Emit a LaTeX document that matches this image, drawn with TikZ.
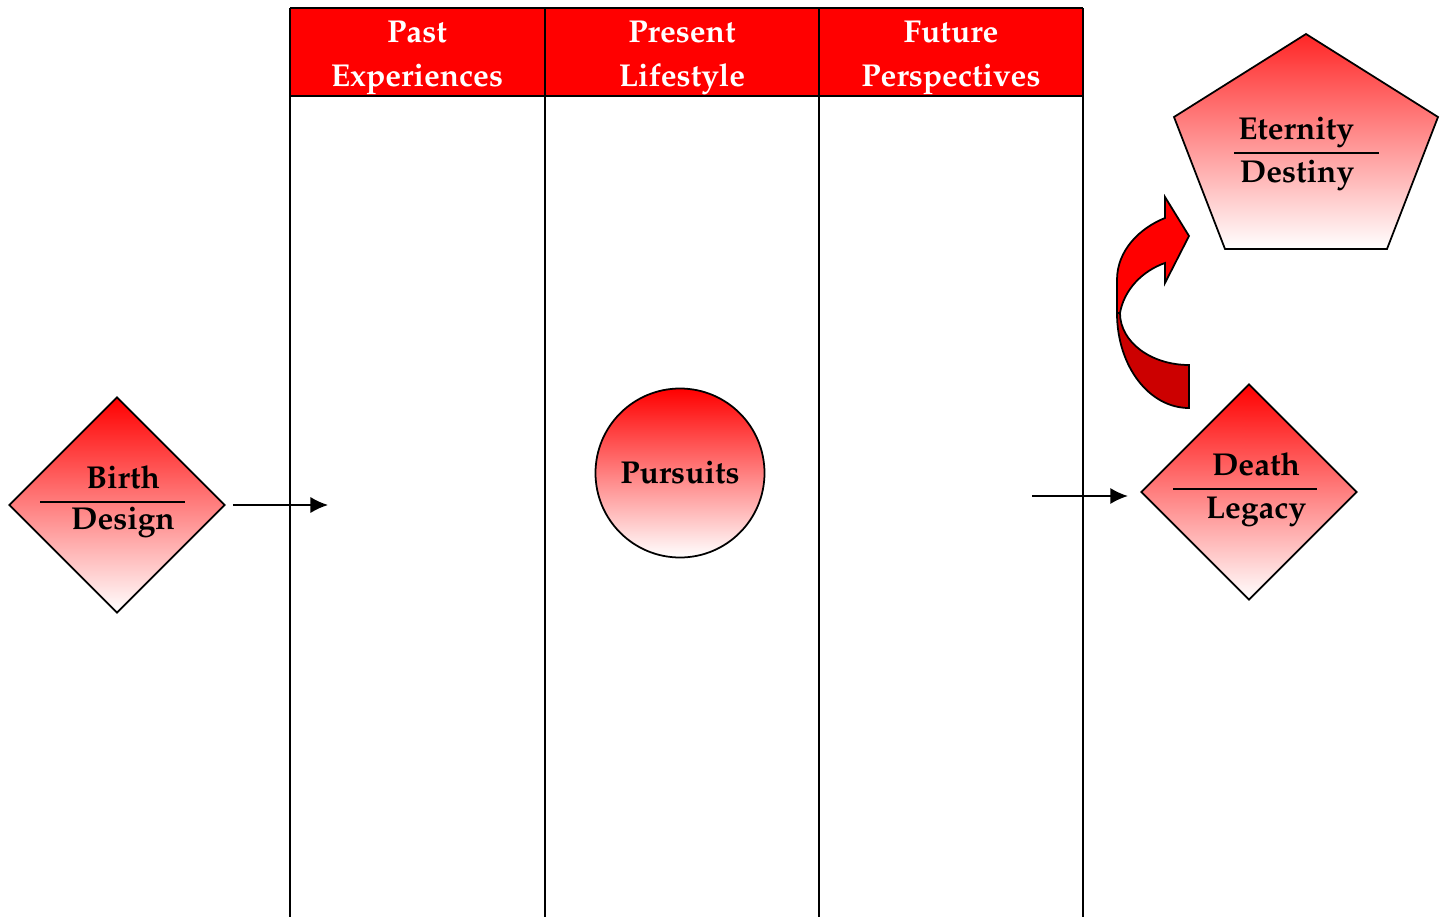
\documentclass[tikz,border=0pt]{standalone}
\usepackage[T1]{fontenc}
\usepackage{mathpazo}
\usetikzlibrary{shapes.geometric,arrows.meta}
\tikzset{
  redfade/.style={draw=black, line width=0.5pt, top color=red, middle color=red!45!white, bottom color=white},
  diamondbox/.style={redfade, diamond, inner sep=0pt, minimum width=21.6mm, minimum height=21.6mm},
  roundbox/.style={redfade, circle, inner sep=0pt, minimum size=16.9mm},
  lbl/.style={font=\fontsize{9}{11}\selectfont\bfseries, inner sep=0pt, anchor=base},
  headlbl/.style={lbl, text=white},
  divider/.style={line width=0.45pt},
  lane/.style={line width=0.6pt},
  link/.style={-{Latex[length=5pt,width=4.6pt]}, line width=0.45pt},
}

\begin{document}
\begin{tikzpicture}[x=0.1mm,y=-0.1mm]
			%%%%% START %%%%%
			\def\ytop{8}
			\def\yhead{96}
			\def\ybot{917}
			\useasboundingbox (0,0) rectangle (1447,917);
			
			% lanes
			\fill[red] (290,\ytop) rectangle (1083,\yhead);
			\foreach \x in {290,545,819,1083}
				\draw[lane] (\x,\ytop) -- (\x,\ybot);
			\draw[lane, line width=0.8pt] (290,\ytop) -- (1083,\ytop);
			\draw[lane] (290,\yhead) -- (1083,\yhead);
			
			\node[headlbl] (pastA) at (417,42) {Past};
			\node[headlbl] (pastB) at (417,86) {Experiences};
			\node[headlbl] (presentA) at (682,42) {Present};
			\node[headlbl] (presentB) at (682,86) {Lifestyle};
			\node[headlbl] (futureA) at (951,42) {Future};
			\node[headlbl] (futureB) at (951,86) {Perspectives};
			
			% birth
			\node[diamondbox] (birth) at (117,505) {};
			\node[lbl] (birthA) at (123,488) {Birth};
			\draw[divider] (40,502) -- (185,502);
			\node[lbl] (birthB) at (123,529) {Design};
			\coordinate (pastin) at (328,505);
			\draw[link, shorten <=2pt] (birth.east) -- (pastin);
			
			% present
			\node[roundbox, font=\fontsize{9}{11}\selectfont\bfseries] (pursuits) at (680,473) {Pursuits};
			
			% death
			\node[diamondbox] (death) at (1249,492) {};
			\node[lbl] (deathA) at (1256,475) {Death};
			\draw[divider] (1173,489) -- (1317,489);
			\node[lbl] (deathB) at (1256,518) {Legacy};
			\coordinate (futureout) at (1032,496);
			\draw[link, shorten >=3.5pt] (futureout) -- (futureout -| death.west);
			
			% eternity
			\shadedraw[top color=red!85!white, middle color=red!35!white, bottom color=white, line width=0.5pt] (1306,34) -- (1438,117) -- (1387,249) -- (1225,249) -- (1174,117) -- cycle;
			\node[lbl] (eternityA) at (1296,139) {Eternity};
			\draw[divider] (1234,153) -- (1379,153);
			\node[lbl] (eternityB) at (1297,182) {Destiny};
			
			% curved arrow
			\filldraw[fill=red!80!black, line width=0.5pt] (1117,313) .. controls (1117,366) and (1149,408) .. (1189,408) -- (1189,365) .. controls (1151,365) and (1120,342) .. (1120,313) -- cycle;
			\filldraw[fill=red, line width=0.5pt] (1117,313) -- (1117,280) .. controls (1117,250) and (1140,228) .. (1165,218) -- (1165,197) -- (1189,236) -- (1165,283) -- (1165,263) .. controls (1142,271) and (1124,290) .. (1120,313) -- cycle;
			%%%%% END %%%%%
\end{tikzpicture}
\end{document}
